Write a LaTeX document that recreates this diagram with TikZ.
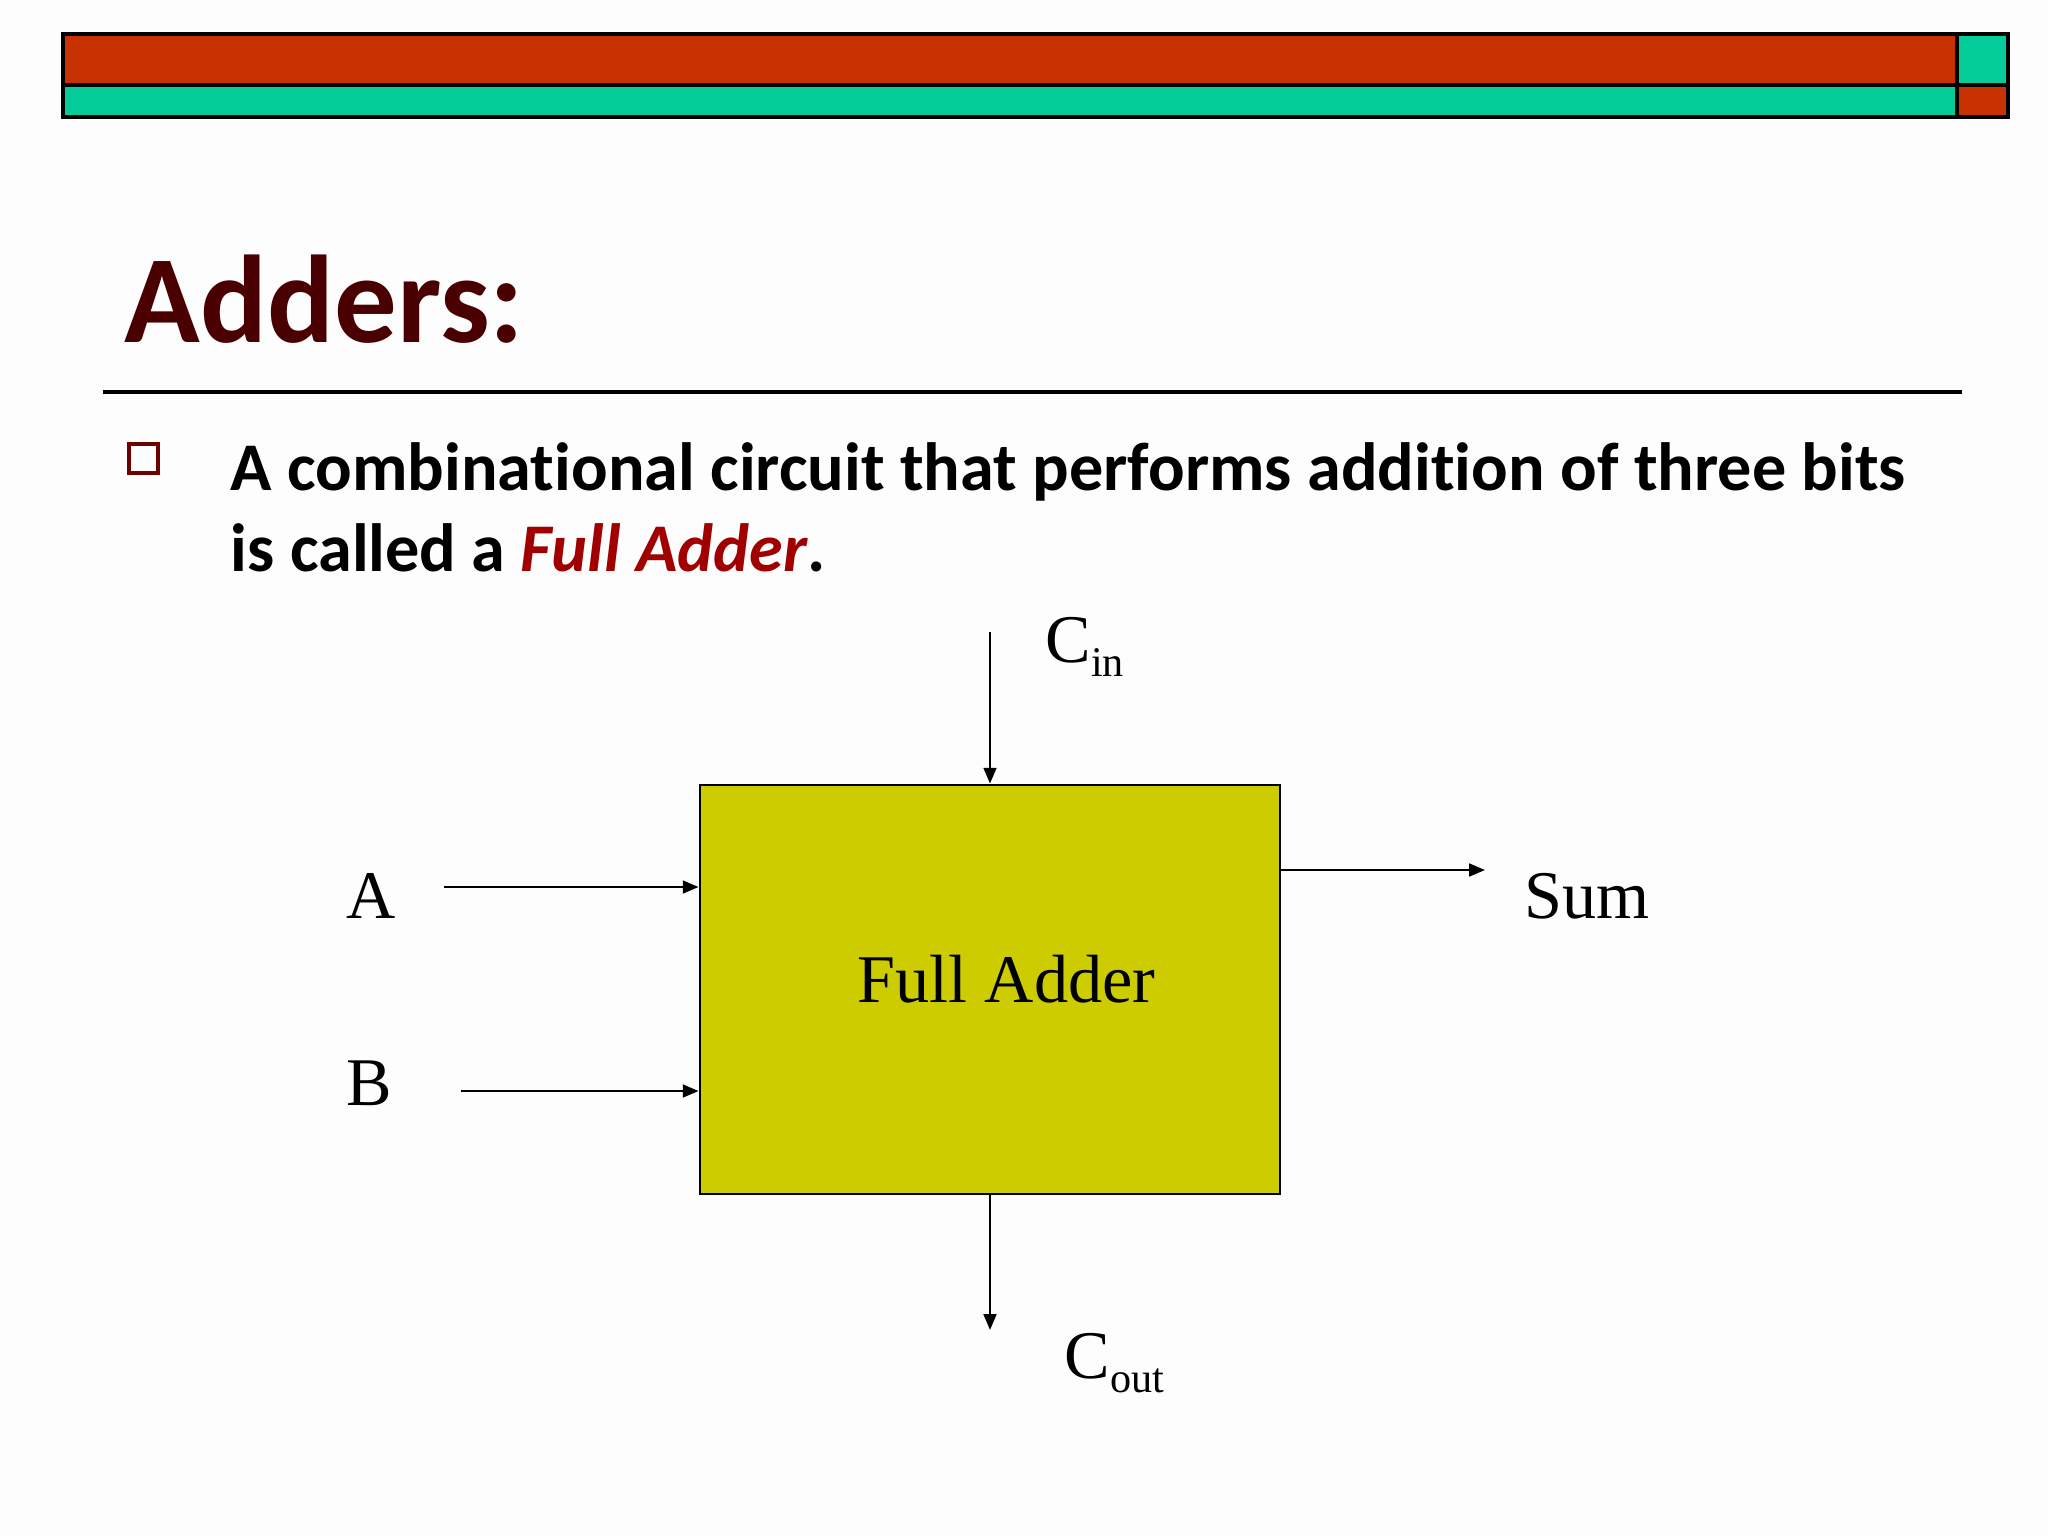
\documentclass[tikz,border=0pt]{standalone}
\usepackage{fontspec}
\setmainfont{Liberation Serif}
\newfontfamily\calibri[Ligatures=NoCommon]{Carlito}
\usetikzlibrary{arrows.meta,positioning}
\definecolor{barred}{RGB}{200,50,0}
\definecolor{barteal}{RGB}{4,204,153}
\definecolor{titlered}{RGB}{74,0,0}
\definecolor{keyred}{RGB}{160,0,0}
\definecolor{bulletred}{RGB}{110,0,0}
\definecolor{fabox}{RGB}{204,204,0}
\definecolor{slidebg}{RGB}{253,253,253}
\newcommand{\lowsub}[1]{\raisebox{-4pt}{\fontsize{12}{12}\selectfont #1}}

\begin{document}
\begin{tikzpicture}[x=0.01cm, y=-0.01cm,
  >={Triangle[length=4.5pt,width=3.6pt]},
  bar/.style={draw=black, line width=1.2pt},
  heading/.style={font=\calibri\bfseries\fontsize{35.5}{40}\selectfont, text=titlered, inner sep=0pt, anchor=base west},
  body/.style={font=\calibri\bfseries\fontsize{19.4}{24}\selectfont, inner sep=0pt, anchor=base west},
  blk/.style={rectangle, draw=black, line width=0.7pt, fill=fabox, minimum width=5.8cm, minimum height=4.09cm, inner sep=0pt},
  sig/.style={font=\fontsize{19.4}{24}\selectfont, inner sep=0pt, anchor=base west},
  e/.style={->, line width=0.75pt},
]
\fill[slidebg] (0,0) rectangle (2048,1536);
\useasboundingbox (0,0) rectangle (2048,1536);

% header bar
\fill[barred]  (63,34)   rectangle (1957,85);
\fill[barteal] (63,85)   rectangle (1957,117);
\fill[barteal] (1957,34) rectangle (2008,85);
\fill[barred]  (1957,85) rectangle (2008,117);
\draw[bar] (63,34) rectangle (2008,117) (63,85) -- (2008,85) (1957,34) -- (1957,117);

\node[heading] (ttl) at (124,342) {Adders:};
\draw[line width=0.9pt] (103,392) -- (1962,392);

\node[rectangle, draw=bulletred, line width=1.2pt, minimum size=0.29cm, inner sep=0pt] (bul) at (143.5,458.5) {};
\node[body] (l1) at (230,490) {A combinational circuit that performs addition of three bits};
\node[body] (l2) at (230,571) {is called a \textcolor{keyred}{\itshape Full Adder}.};

% full adder block
\node[blk] (fa) at (990,989.5) {};
\node[sig] (fatxt) at (857,1002) {Full Adder};

\node[sig] (a)    at (346,918)   {A};
\node[sig] (b)    at (346,1105)  {B};
\node[sig] (sum)  at (1524,918)  {Sum};
\node[sig] (cin)  at (1045,662)  {C\lowsub{in}};
\node[sig] (cout) at (1064,1378) {C\lowsub{out}};

\coordinate (ain)     at (444,887);
\coordinate (bin)     at (461,1091);
\coordinate (cinend)  at (990,632);
\coordinate (sumend)  at (1485,870);
\coordinate (coutend) at (990,1330);

\draw[e] (ain) -- (ain -| fa.west);
\draw[e] (bin) -- (bin -| fa.west);
\draw[e] (cinend) -- (fa.north);
\draw[e] (sumend -| fa.east) -- (sumend);
\draw[e] (fa.south) -- (coutend);
\end{tikzpicture}
\end{document}
